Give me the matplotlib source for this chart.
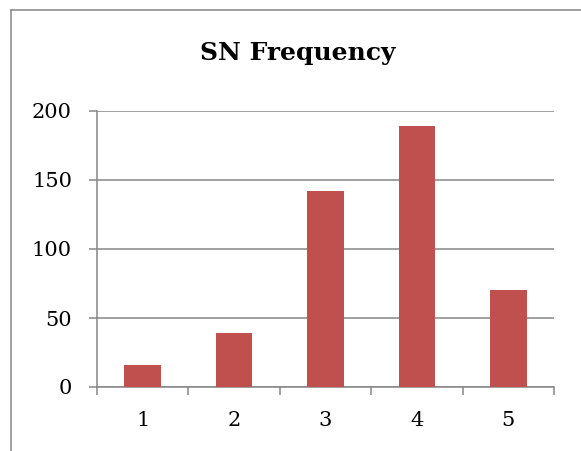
import matplotlib.pyplot as plt
from matplotlib.lines import Line2D

# -----------------------------
# Data
# -----------------------------

categories = ["1", "2", "3", "4", "5"]
frequency = [16, 39, 142, 189, 70]
y_ticks = [0, 50, 100, 150, 200]

# -----------------------------
# Chart
# -----------------------------

grey = "#868686"
bar_color = "#C0504D"

fig = plt.figure(figsize=(5.81, 4.51), dpi=100)
ax = fig.add_axes([97 / 581, 1 - 387 / 451, (554 - 97) / 581, (387 - 111) / 451])

x = list(range(len(categories)))
ax.bar(x, frequency, width=0.4, color=bar_color, zorder=3)

ax.set_xlim(-0.5, len(categories) - 0.5)
ax.set_ylim(0, 200)

ax.set_yticks(y_ticks)
ax.set_yticklabels([str(v) for v in y_ticks])
ax.yaxis.grid(True, color=grey, linewidth=1.1, zorder=0)

# boundary ticks (major) and centred labels (minor)
ax.set_xticks([i - 0.5 for i in range(len(categories) + 1)])
ax.set_xticklabels([])
ax.set_xticks(x, minor=True)
ax.set_xticklabels(categories, minor=True)

ax.tick_params(axis="x", which="major", direction="out", length=6,
               width=1.1, color=grey)
ax.tick_params(axis="x", which="minor", length=0, pad=17,
               labelsize=15)
ax.tick_params(axis="y", direction="out", length=6, width=1.1,
               color=grey, pad=12, labelsize=15)

for label in ax.get_xticklabels(minor=True) + ax.get_yticklabels():
    label.set_family("DejaVu Serif")

for side in ["top", "right"]:
    ax.spines[side].set_visible(False)
for side in ["left", "bottom"]:
    ax.spines[side].set_color(grey)
    ax.spines[side].set_linewidth(1.1)

fig.text(298 / 581, 1 - 53 / 451, "SN Frequency", ha="center", va="center",
         fontsize=18, fontweight="bold", family="DejaVu Serif")

# outer chart frame (partially cropped)
fig.add_artist(Line2D([10.5 / 581, 10.5 / 581], [0, 1 - 9.5 / 451],
                      color=grey, linewidth=1.1, transform=fig.transFigure))
fig.add_artist(Line2D([10.5 / 581, 1], [1 - 9.5 / 451, 1 - 9.5 / 451],
                      color=grey, linewidth=1.1, transform=fig.transFigure))

plt.savefig("out.png", dpi=100)
